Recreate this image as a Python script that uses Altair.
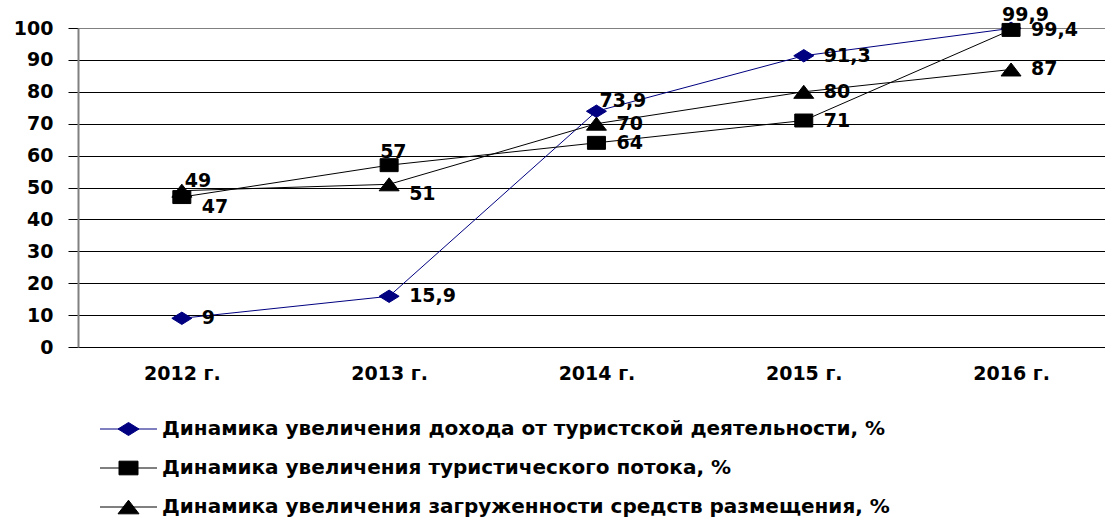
import altair as alt
import pandas as pd

# ---------------- data ----------------
years = ["2012 г.", "2013 г.", "2014 г.", "2015 г.", "2016 г."]
series = [
    "Динамика увеличения дохода от туристской деятельности, %",
    "Динамика увеличения туристического потока, %",
    "Динамика увеличения загруженности средств размещения, %",
]
income = [9, 15.9, 73.9, 91.3, 99.9]
flow = [47, 57, 64, 71, 99.4]
occupancy = [49, 51, 70, 80, 87]
y_ticks = [0, 10, 20, 30, 40, 50, 60, 70, 80, 90, 100]

# ---------------- style ----------------
colors = ["#000080", "#000000", "#000000"]
marker_paths = [
    "M-1,0L0,-0.62L1,0L0,0.62Z",
    "M-1,-0.72H1V0.72H-1Z",
    "M0,-0.65L1,0.65H-1Z",
]
marker_sizes = [400, 324, 400]
legend_marker_sizes = [441, 361, 441]
label_place = [
    ["right", "right", "upper", "right", "above"],
    ["lower", "above", "right", "right", "right"],
    ["upper", "lower", "right", "right", "right"],
]
offsets = {"right": (20, 0), "upper": (3, -10), "lower": (20, 10), "above": (-9, -13)}
FONT = "DejaVu Sans"

rows = []
for s, vals, places in zip(series, [income, flow, occupancy], label_place):
    for yr, v, p in zip(years, vals, places):
        lab = (f"{v:g}").replace(".", ",")
        rows.append({"year": yr, "series": s, "value": v, "label": lab, "place": p})
df = pd.DataFrame(rows)
legend_df = pd.DataFrame({"series": series})

x_enc = alt.X(
    "year:N",
    sort=years,
    scale=alt.Scale(type="point", padding=0.477, align=0.525),
    axis=alt.Axis(
        title=None, labelAngle=0, ticks=False, tickSize=0, labelPadding=17,
        labelFont=FONT, labelFontSize=19, labelFontWeight="bold", labelColor="black",
        domain=True, domainColor="black", domainWidth=1, grid=False,
    ),
)
y_enc = alt.Y(
    "value:Q",
    scale=alt.Scale(domain=[0, 100], nice=False),
    axis=alt.Axis(
        title=None, values=y_ticks, labelPadding=15, tickSize=10, tickColor="black",
        labelFont=FONT, labelFontSize=19, labelFontWeight="bold", labelColor="black",
        domainColor="#808080", domainWidth=2,
        grid=True, gridWidth=1,
        gridColor={"condition": {"test": "datum.value === 100", "value": "#808080"}, "value": "black"},
    ),
)
color_enc = alt.Color("series:N", scale=alt.Scale(domain=series, range=colors), legend=None)

base = alt.Chart(df)

lines = base.mark_line(strokeWidth=1).encode(x=x_enc, y=y_enc, color=color_enc, detail="series:N")

point_layers = []
for s, c, pth, sz in zip(series, colors, marker_paths, marker_sizes):
    point_layers.append(
        base.transform_filter(alt.FieldEqualPredicate(field="series", equal=s))
        .mark_point(shape=pth, filled=True, fill=c, stroke=c, strokeWidth=1, size=sz, opacity=1)
        .encode(x=x_enc, y=y_enc)
    )

text_layers = []
for place, (dx, dy) in offsets.items():
    text_layers.append(
        base.transform_filter(alt.FieldEqualPredicate(field="place", equal=place))
        .mark_text(align="left", baseline="middle", dx=dx, dy=dy, font=FONT,
                   fontSize=19, fontWeight="bold", color="black")
        .encode(x=x_enc, y=y_enc, text="label:N")
    )

main = alt.layer(lines, *point_layers, *text_layers)

# ---------------- legend (below the plot, rows on their own point scale) ----------------
leg_y = alt.Y("series:N", sort=series, axis=None,
              scale=alt.Scale(type="point", domain=series, range=[401, 479], padding=0))
lbase = alt.Chart(legend_df)
leg_lines = lbase.mark_rule(strokeWidth=1).encode(
    x=alt.value(22), x2=alt.value(79), y=leg_y, color=color_enc
)
leg_points = []
for s, c, pth, sz in zip(series, colors, marker_paths, legend_marker_sizes):
    leg_points.append(
        lbase.transform_filter(alt.FieldEqualPredicate(field="series", equal=s))
        .mark_point(shape=pth, filled=True, fill=c, stroke=c, strokeWidth=1, size=sz, opacity=1)
        .encode(x=alt.value(50.5), y=leg_y)
    )
leg_text = lbase.mark_text(align="left", baseline="middle", font=FONT, fontSize=20,
                           fontWeight="bold", color="black").encode(
    x=alt.value(84), y=leg_y, text="series:N"
)
legend = alt.layer(leg_lines, *leg_points, leg_text)

chart = alt.layer(main, legend).resolve_scale(y="independent").properties(
    width=1027,
    height=319,
    autosize=alt.AutoSizeParams(type="none"),
    padding={"left": 78, "top": 28, "right": 0, "bottom": 172},
    background="white",
).configure_view(stroke=None)

chart.save("out.html", embed_options={"renderer": "svg", "actions": False})
